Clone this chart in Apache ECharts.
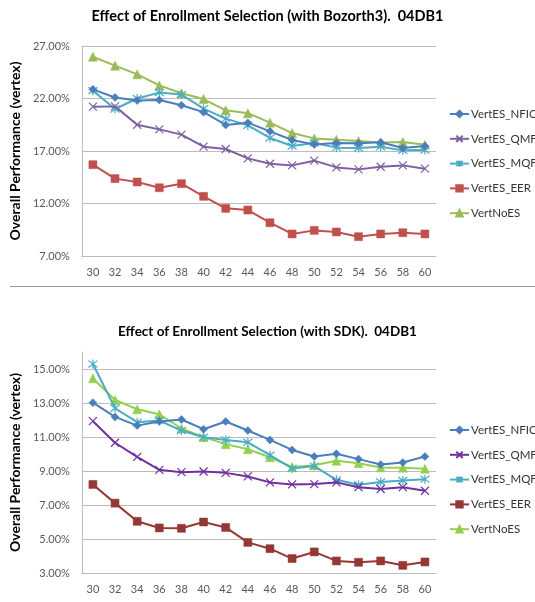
<!DOCTYPE html>
<html>
<head>
<meta charset="utf-8">
<script src="https://cdn.jsdelivr.net/npm/echarts@6/dist/echarts.min.js"></script>
<style>
html,body{margin:0;padding:0;background:#fff;}
#c{width:535px;height:602px;}
</style>
</head>
<body>
<div id="c"></div>
<script>
const categories = ['30','32','34','36','38','40','42','44','46','48','50','52','54','56','58','60'];
const seriesNames = ['VertES_NFIQ','VertES_QMF','VertES_MQF','VertES_EER','VertNoES'];

const topTitle = 'Effect of Enrollment Selection (with Bozorth3).  04DB1';
const bottomTitle = 'Effect of Enrollment Selection (with SDK).  04DB1';
const yTitle = 'Overall Performance (vertex)';

// top chart (Bozorth3), values in %
const top_NFIQ = [22.87,22.10,21.80,21.86,21.35,20.70,19.48,19.70,18.87,18.05,17.63,17.76,17.73,17.83,17.29,17.48];
const top_QMF  = [21.22,21.25,19.50,19.06,18.56,17.41,17.19,16.30,15.79,15.63,16.08,15.44,15.25,15.50,15.63,15.32];
const top_MQF  = [22.75,21.00,22.00,22.56,22.37,21.03,20.08,19.44,18.24,17.48,17.76,17.32,17.29,17.41,17.06,17.10];
const top_EER  = [15.70,14.37,14.05,13.50,13.89,12.68,11.54,11.38,10.17,9.10,9.44,9.29,8.84,9.10,9.22,9.10];
const top_NoES = [25.98,25.13,24.30,23.25,22.50,21.95,20.87,20.60,19.70,18.71,18.20,18.08,17.95,17.80,17.86,17.60];

// bottom chart (SDK), values in %
const bot_NFIQ = [13.02,12.18,11.67,11.91,12.03,11.46,11.91,11.38,10.83,10.24,9.85,10.01,9.70,9.38,9.50,9.85];
const bot_QMF  = [11.93,10.66,9.83,9.07,8.93,8.97,8.89,8.68,8.33,8.21,8.23,8.33,8.05,7.94,8.05,7.84];
const bot_MQF  = [15.29,12.69,11.87,11.97,11.38,10.99,10.83,10.69,9.93,9.15,9.29,8.48,8.19,8.35,8.44,8.52];
const bot_EER  = [8.21,7.11,6.04,5.65,5.63,6.00,5.68,4.80,4.43,3.85,4.24,3.71,3.63,3.71,3.45,3.65];
const bot_NoES = [14.45,13.18,12.63,12.34,11.50,10.99,10.58,10.28,9.81,9.23,9.34,9.60,9.46,9.21,9.19,9.13];

// top axis: 7..27 labelled every 5 ; bottom axis: 3..16 labelled every 2 (up to 15)
const topY = {min: 7, max: 27, step: 5};
const botY = {min: 3, max: 16, step: 2};

const topColors = ['#4A7EBB','#7D60A0','#4BACC6','#C0504D','#9BBB59'];
const botColors = ['#4A7EBB','#7030A0','#4BACC6','#953735','#92D050'];

const SYM_X = 'path://M0,0L10,10M10,0L0,10';
const SYM_STAR = 'path://M0,0L10,10M10,0L0,10M5,-1.5L5,11.5';
const symbols = ['diamond', SYM_X, SYM_STAR, 'rect', 'triangle'];
const symbolSizes = [8, 8, 9, 8, 9];

const FONT = 'Lato';
const chart = echarts.init(document.getElementById('c'));

function mkSeries(dataArr, colors, gridIdx, suffix) {
  return dataArr.map((d, i) => ({
    name: seriesNames[i] + suffix,
    type: 'line',
    xAxisIndex: gridIdx,
    yAxisIndex: gridIdx,
    data: d,
    symbol: symbols[i],
    symbolSize: symbolSizes[i],
    showAllSymbol: true,
    lineStyle: {width: 2, color: colors[i]},
    itemStyle: {color: colors[i], borderColor: colors[i], borderWidth: (i === 1 || i === 2) ? 1.2 : 0.5},
    emphasis: {disabled: true},
    animation: false,
    z: 10 - i
  }));
}

function mkY(cfg, gridIdx) {
  const n = cfg.step;
  const cols = [];
  for (let k = 0; k < n; k++) cols.push(k === 0 ? '#BDBDBD' : 'rgba(0,0,0,0)');
  return {
    type: 'value',
    gridIndex: gridIdx,
    min: cfg.min, max: cfg.max, interval: 1,
    name: yTitle,
    nameLocation: 'middle',
    nameRotate: 90,
    nameGap: 53,
    nameTextStyle: {fontFamily: FONT, fontWeight: 'bold', fontSize: 14, color: '#000'},
    axisLine: {show: true, lineStyle: {color: '#BDBDBD', width: 1}},
    axisTick: {show: false},
    axisLabel: {
      fontFamily: FONT, fontSize: 11, color: '#595959', margin: 12,
      formatter: v => ((v - cfg.min) % cfg.step === 0 && v <= cfg.max - ((cfg.max - cfg.min) % cfg.step)) ? v.toFixed(2) + '%' : ''
    },
    splitLine: {show: true, lineStyle: {color: cols, width: 1.2}}
  };
}

function mkX(gridIdx) {
  return {
    type: 'category',
    gridIndex: gridIdx,
    data: categories,
    boundaryGap: true,
    axisLine: {show: true, lineStyle: {color: '#BDBDBD', width: 1.2}},
    axisTick: {show: false},
    axisLabel: {fontFamily: FONT, fontSize: 11, color: '#595959', margin: 11, interval: 0}
  };
}

function mkLegend(top, suffix) {
  return {
    orient: 'vertical',
    left: 449,
    top: top,
    padding: 0,
    itemWidth: 19,
    itemHeight: 8,
    itemGap: 12.8,
    data: seriesNames.map(n => n + suffix),
    formatter: name => name.replace(/\u200b/g, ''),
    textStyle: {fontFamily: FONT, fontSize: 11.5, color: '#333', padding: [0, 0, 0, -3]},
    selectedMode: false
  };
}

const option = {
  backgroundColor: '#fff',
  animation: false,
  title: [
    {text: topTitle, left: 'center', top: 4, textStyle: {fontFamily: FONT, fontWeight: 'bold', fontSize: 14.5, color: '#000'}},
    {text: bottomTitle, left: 'center', top: 320, textStyle: {fontFamily: FONT, fontWeight: 'bold', fontSize: 13.5, color: '#000'}}
  ],
  legend: [mkLegend(108, ''), mkLegend(424, '\u200b')],
  grid: [
    {left: 80, right: 99, top: 46, bottom: 346},
    {left: 80, right: 99, top: 352, bottom: 29}
  ],
  xAxis: [mkX(0), mkX(1)],
  yAxis: [mkY(topY, 0), mkY(botY, 1)],
  graphic: [
    {type: 'line', shape: {x1: 10, y1: 286.5, x2: 535, y2: 286.5}, style: {stroke: '#999', lineWidth: 1}}
  ],
  series: [
    ...mkSeries([top_NFIQ, top_QMF, top_MQF, top_EER, top_NoES], topColors, 0, ''),
    ...mkSeries([bot_NFIQ, bot_QMF, bot_MQF, bot_EER, bot_NoES], botColors, 1, '\u200b')
  ]
};
chart.setOption(option);
</script>
</body>
</html>
